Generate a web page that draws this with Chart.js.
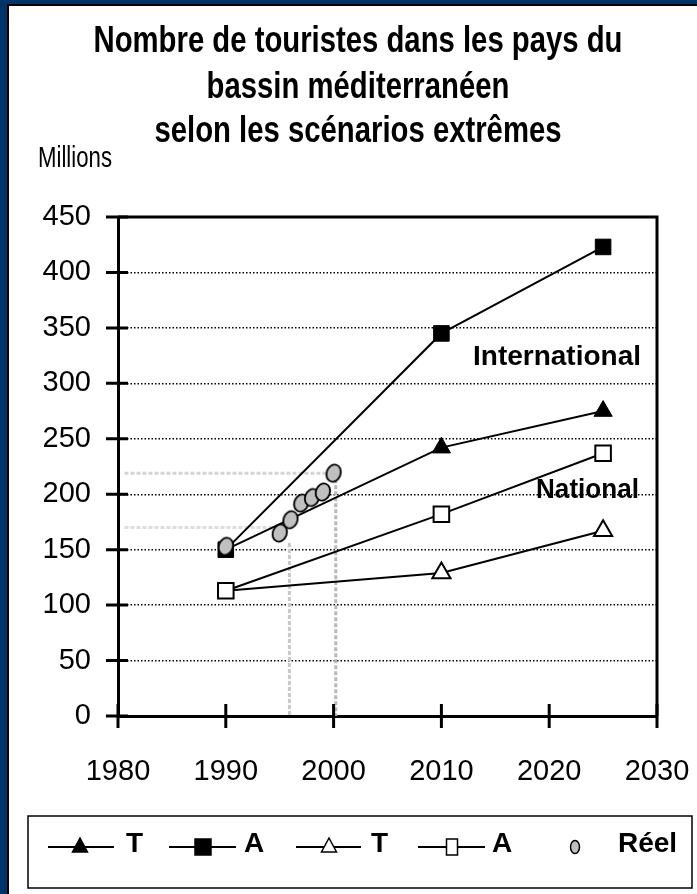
<!DOCTYPE html>
<html>
<head>
<meta charset="utf-8">
<script src="https://cdn.jsdelivr.net/npm/chart.js@4.4.1/dist/chart.umd.min.js"></script>
<style>
  html, body { margin: 0; padding: 0; background: #fff; }
</style>
</head>
<body>
<canvas id="chart" width="697" height="894"></canvas>
<script>
const titleLines = ["Nombre de touristes dans les pays du", "bassin méditerranéen", "selon les scénarios extrêmes"];
const unitLabel = "Millions";
const yearTicks = [1980, 1990, 2000, 2010, 2020, 2030];
const valueTicks = [0, 50, 100, 150, 200, 250, 300, 350, 400, 450];

// scenario projections (1990, 2010, 2025)
const scenarioYears = [1990, 2010, 2025];
const interT = [150, 242, 275];
const interA = [150, 345, 423];
const natT = [113, 129, 167];
const natA = [113, 182, 237];

// observed values
const realYears = [1990, 1995, 1996, 1997, 1998, 1999, 2000];
const realValues = [153, 165, 177, 192, 197, 202, 219];

// grey guide lines
const guideHighX = [1980.6, 2000];
const guideHighY = [219, 219];
const guideDropX = [2000.2, 2000.2];
const guideDropY = [219, 0];
const guideLowX = [1980.6, 1994.7];
const guideLowY = [170, 170];
const guideLowDropX = [1995.9, 1995.9];
const guideLowDropY = [156, 0];

const labelInter = "International";
const labelNat = "National";
const legendLabels = ["T", "A", "T", "A", "Réel"];

function pts(xs, ys) {
  return xs.map((x, i) => ({ x: x, y: ys[i] }));
}

function guide(xs, ys, color) {
  return {
    data: pts(xs, ys),
    borderColor: color,
    borderWidth: 3,
    borderDash: [4, 2],
    pointRadius: 0
  };
}

const narrow = '"Liberation Sans Narrow", "Liberation Sans", Arial, sans-serif';
const sans = '"Liberation Sans", Arial, sans-serif';

// triangle / square / ellipse markers for the legend
function marker(ctx, kind, x, y, filled) {
  ctx.save();
  ctx.lineWidth = 1.5;
  ctx.strokeStyle = "#000";
  ctx.fillStyle = filled ? "#000" : "#fff";
  ctx.beginPath();
  if (kind === "tri") {
    ctx.moveTo(x, y - 9);
    ctx.lineTo(x + 7.5, y + 5);
    ctx.lineTo(x - 7.5, y + 5);
    ctx.closePath();
  } else if (kind === "sq") {
    if (filled) ctx.rect(x - 8, y - 8, 16, 16);
    else ctx.rect(x - 5.5, y - 8, 11, 16);
  } else {
    ctx.fillStyle = "#c0c0c0";
    ctx.ellipse(x, y, 4.5, 6.5, 0, 0, Math.PI * 2);
  }
  ctx.fill();
  ctx.stroke();
  ctx.restore();
}

// oval marker for the observed points
const oval = document.createElement("canvas");
oval.width = 18;
oval.height = 22;
(function () {
  const c = oval.getContext("2d");
  c.fillStyle = "#c0c0c0";
  c.strokeStyle = "#000";
  c.lineWidth = 1.8;
  c.beginPath();
  c.ellipse(9, 11, 7, 8.8, 0.35, 0, Math.PI * 2);
  c.fill();
  c.stroke();
})();

const framePlugin = {
  id: "frame",
  beforeDraw(chart) {
    const ctx = chart.ctx;
    ctx.save();
    ctx.fillStyle = "#fff";
    ctx.fillRect(0, 0, chart.width, chart.height);
    ctx.fillStyle = "#003468";
    ctx.fillRect(0, 0, chart.width, 5);
    ctx.fillRect(0, 0, 7, chart.height);
    ctx.fillStyle = "#000";
    ctx.fillRect(7, 4, chart.width, 2);
    ctx.fillRect(7, 4, 2, chart.height);
    ctx.restore();
  },
  afterDraw(chart) {
    const ctx = chart.ctx;
    const area = chart.chartArea;
    const xs = chart.scales.x;
    const ys = chart.scales.y;
    ctx.save();
    ctx.strokeStyle = "#000";
    ctx.lineWidth = 3;
    ctx.beginPath();
    ctx.moveTo(area.left, area.top);
    ctx.lineTo(area.right, area.top);
    ctx.lineTo(area.right, area.bottom);
    ctx.stroke();
    // crossing tick marks
    ctx.beginPath();
    valueTicks.forEach(v => {
      const py = ys.getPixelForValue(v);
      ctx.moveTo(area.left - 12, py);
      ctx.lineTo(area.left + 10, py);
    });
    yearTicks.forEach(v => {
      const px = xs.getPixelForValue(v);
      ctx.moveTo(px, area.bottom - 12);
      ctx.lineTo(px, area.bottom + 12);
    });
    ctx.stroke();

    // title
    ctx.fillStyle = "#000";
    ctx.textAlign = "center";
    ctx.textBaseline = "middle";
    ctx.font = "bold 37px " + narrow;
    const k = Math.min(1, 529 / ctx.measureText(titleLines[0]).width);
    const titleY = [42, 88, 132];
    titleLines.forEach((t, i) => {
      ctx.fillText(t, 358, titleY[i], ctx.measureText(t).width * k);
    });

    ctx.textAlign = "left";
    ctx.font = "29px " + narrow;
    ctx.fillText(unitLabel, 38, 159, 74);

    ctx.font = "bold 28px " + sans;
    ctx.fillText(labelInter, 473, 357, 169);
    ctx.fillText(labelNat, 536, 490, 103);

    // legend
    ctx.lineWidth = 1.5;
    ctx.strokeRect(28, 816, 664, 72);
    const ly = 847;
    const segs = [[48, 114, 80, "tri", true], [169, 236, 203, "sq", true], [296, 361, 329, "tri", false], [418, 485, 452, "sq", false]];
    ctx.lineWidth = 2;
    segs.forEach(s => {
      ctx.beginPath();
      ctx.moveTo(s[0], ly);
      ctx.lineTo(s[1], ly);
      ctx.stroke();
      marker(ctx, s[3], s[2], ly, s[4]);
    });
    marker(ctx, "dot", 575, ly, false);
    ctx.font = "bold 28px " + sans;
    const lx = [126, 244, 371, 492, 618];
    legendLabels.forEach((t, i) => ctx.fillText(t, lx[i], ly - 3));
    ctx.restore();
  }
};

const ctx = document.getElementById("chart").getContext("2d");

new Chart(ctx, {
  type: "line",
  plugins: [framePlugin],
  data: {
    datasets: [
      {
        data: pts(realYears, realValues),
        showLine: false,
        pointStyle: oval,
        pointRadius: 9
      },
      {
        data: pts(scenarioYears, interA),
        borderColor: "#000",
        borderWidth: 2,
        pointStyle: "rect",
        pointRadius: 11,
        pointBackgroundColor: "#000",
        pointBorderColor: "#000",
        pointBorderWidth: 1
      },
      {
        data: pts(scenarioYears, interT),
        borderColor: "#000",
        borderWidth: 2,
        pointStyle: "triangle",
        pointRadius: [0, 10.5, 10.5],
        pointBackgroundColor: "#000",
        pointBorderColor: "#000",
        pointBorderWidth: 1
      },
      {
        data: pts(scenarioYears, natA),
        borderColor: "#000",
        borderWidth: 2,
        pointStyle: "rect",
        pointRadius: 11,
        pointBackgroundColor: "#fff",
        pointBorderColor: "#000",
        pointBorderWidth: 2
      },
      {
        data: pts(scenarioYears, natT),
        borderColor: "#000",
        borderWidth: 2,
        pointStyle: "triangle",
        pointRadius: [0, 10.5, 10.5],
        pointBackgroundColor: "#fff",
        pointBorderColor: "#000",
        pointBorderWidth: 2
      },
      guide(guideHighX, guideHighY, "#d4d4d4"),
      guide(guideDropX, guideDropY, "#b8b8b8"),
      guide(guideLowX, guideLowY, "#dedede"),
      guide(guideLowDropX, guideLowDropY, "#c8c8c8")
    ]
  },
  options: {
    responsive: false,
    devicePixelRatio: 1,
    animation: false,
    events: [],
    layout: { padding: { top: 217, right: 40, bottom: 98, left: 0 } },
    plugins: {
      legend: { display: false },
      title: { display: false },
      tooltip: { enabled: false }
    },
    scales: {
      x: {
        type: "linear",
        min: 1980,
        max: 2030,
        afterBuildTicks: s => { s.ticks = yearTicks.map(v => ({ value: v })); },
        afterFit: s => { s.height = 80; s.paddingLeft = 0; s.paddingRight = 0; },
        grid: { display: false, drawTicks: false },
        border: { display: true, width: 3, color: "#000" },
        ticks: {
          color: "#000",
          padding: 39,
          font: { family: sans, size: 29 },
          callback: v => String(v)
        }
      },
      y: {
        type: "linear",
        min: 0,
        max: 450,
        afterBuildTicks: s => { s.ticks = valueTicks.map(v => ({ value: v })); },
        afterFit: s => { s.width = 118; s.paddingTop = 0; s.paddingBottom = 0; },
        grid: {
          drawTicks: false,
          lineWidth: 1.4,
          color: c => (c.tick && (c.tick.value === 0 || c.tick.value === 450)) ? "rgba(0,0,0,0)" : "#000"
        },
        border: { display: true, width: 3, color: "#000", dash: [1.5, 2] },
        ticks: {
          color: "#000",
          padding: 27,
          font: { family: sans, size: 29 }
        }
      }
    }
  }
});
</script>
</body>
</html>
